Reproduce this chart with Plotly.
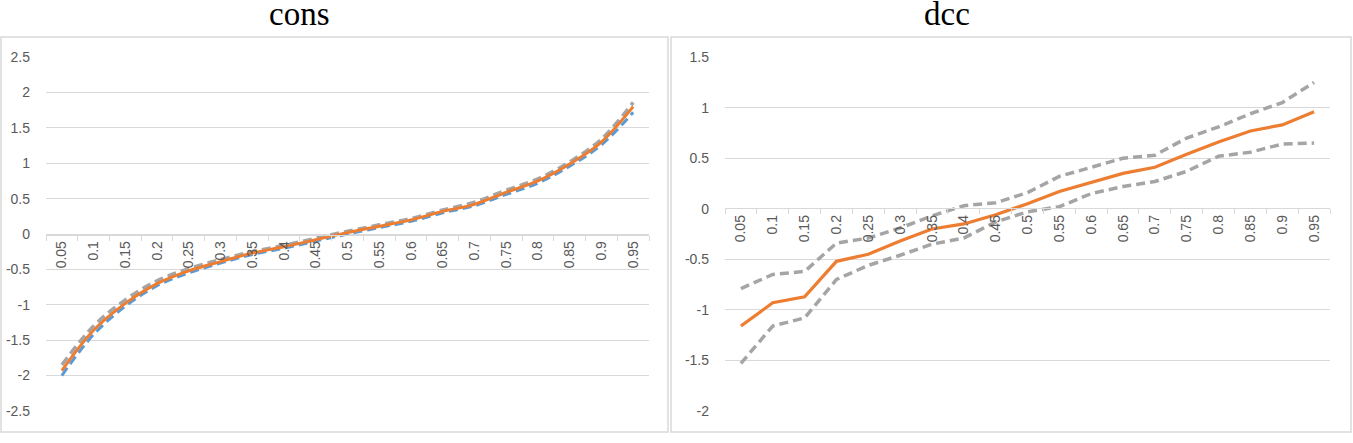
import plotly.graph_objects as go

W, H = 1353, 443

quantiles = ["0.05", "0.1", "0.15", "0.2", "0.25", "0.3", "0.35", "0.4", "0.45", "0.5",
             "0.55", "0.6", "0.65", "0.7", "0.75", "0.8", "0.85", "0.9", "0.95"]

# cons panel
cons_est = [-1.93, -1.36, -0.98, -0.70, -0.52, -0.39, -0.27, -0.18, -0.08, 0.02,
            0.11, 0.20, 0.32, 0.42, 0.59, 0.75, 0.99, 1.30, 1.80]
cons_upper = [-1.85, -1.30, -0.93, -0.66, -0.49, -0.36, -0.25, -0.16, -0.06, 0.04,
              0.13, 0.22, 0.34, 0.45, 0.62, 0.78, 1.02, 1.34, 1.86]
cons_lower = [-2.00, -1.42, -1.02, -0.73, -0.55, -0.41, -0.29, -0.20, -0.10, 0.00,
              0.09, 0.18, 0.30, 0.40, 0.56, 0.72, 0.96, 1.26, 1.72]

# dcc panel
dcc_est = [-1.16, -0.93, -0.87, -0.52, -0.45, -0.32, -0.20, -0.15, -0.06, 0.05,
           0.17, 0.26, 0.35, 0.41, 0.54, 0.66, 0.77, 0.83, 0.96]
dcc_upper = [-0.79, -0.65, -0.62, -0.34, -0.29, -0.19, -0.07, 0.03, 0.06, 0.16,
             0.32, 0.41, 0.50, 0.53, 0.70, 0.81, 0.94, 1.05, 1.25]
dcc_lower = [-1.53, -1.16, -1.08, -0.70, -0.56, -0.46, -0.35, -0.29, -0.13, -0.03,
             0.02, 0.15, 0.22, 0.27, 0.37, 0.52, 0.56, 0.64, 0.65]

cons_ticks = [2.5, 2, 1.5, 1, 0.5, 0, -0.5, -1, -1.5, -2, -2.5]
cons_ticktext = ["2.5", "2", "1.5", "1", "0.5", "0", "-0.5", "-1", "-1.5", "-2", "-2.5"]
dcc_ticks = [1.5, 1, 0.5, 0, -0.5, -1, -1.5, -2]
dcc_ticktext = ["1.5", "1", "0.5", "0", "-0.5", "-1", "-1.5", "-2"]

titles = ["cons", "dcc"]

BLUE = "#5B9BD5"
ORANGE = "#ED7D31"
GRAY = "#A5A5A5"
GRID = "#D9D9D9"
TXT = "#595959"
DASH = "9px,5px"
SANS = "Liberation Sans, Arial, sans-serif"
SERIF = "Liberation Serif, Times New Roman, serif"

fig = go.Figure()

# left panel
fig.add_trace(go.Scatter(x=quantiles, y=cons_lower, mode="lines", xaxis="x", yaxis="y",
                         line=dict(color=BLUE, width=3, dash=DASH, shape="spline")))
fig.add_trace(go.Scatter(x=quantiles, y=cons_upper, mode="lines", xaxis="x", yaxis="y",
                         line=dict(color=GRAY, width=3.5, dash=DASH, shape="spline")))
fig.add_trace(go.Scatter(x=quantiles, y=cons_est, mode="lines", xaxis="x", yaxis="y",
                         line=dict(color=ORANGE, width=3, shape="spline")))

# right panel
fig.add_trace(go.Scatter(x=quantiles, y=dcc_upper, mode="lines", xaxis="x2", yaxis="y2",
                         line=dict(color=GRAY, width=3.5, dash=DASH)))
fig.add_trace(go.Scatter(x=quantiles, y=dcc_lower, mode="lines", xaxis="x2", yaxis="y2",
                         line=dict(color=GRAY, width=3.5, dash=DASH)))
fig.add_trace(go.Scatter(x=quantiles, y=dcc_est, mode="lines", xaxis="x2", yaxis="y2",
                         line=dict(color=ORANGE, width=3.2)))

ydom = [1 - 418 / H, 1 - 51 / H]
x1dom = [46 / W, 649 / W]
x2dom = [725 / W, 1330 / W]


def xaxis_cfg(dom, pos):
    return dict(domain=dom, anchor="free", position=pos, type="category",
                range=[-0.5, len(quantiles) - 0.5], tickson="boundaries",
                ticks="outside", ticklen=5, tickcolor=GRID, showline=True,
                linecolor=GRID, linewidth=1, showgrid=False, zeroline=False,
                tickangle=-90, tickfont=dict(family=SANS, size=14, color=TXT),
                fixedrange=True)


def yaxis_cfg(pos, rng, vals, text):
    return dict(domain=ydom, anchor="free", position=pos, range=rng,
                tickmode="array", tickvals=vals, ticktext=text,
                showgrid=True, gridcolor=GRID, gridwidth=1, zeroline=False,
                showline=False, ticks="", ticklabelstandoff=16,
                tickfont=dict(family=SANS, size=14, color=TXT),
                fixedrange=True)


fig.update_layout(
    width=W, height=H,
    margin=dict(l=0, r=0, t=0, b=0),
    paper_bgcolor="white", plot_bgcolor="white",
    showlegend=False,
    xaxis=xaxis_cfg(x1dom, 1 - 235 / H),
    yaxis=yaxis_cfg(x1dom[0], [-2.5, 2.5], cons_ticks, cons_ticktext),
    xaxis2=xaxis_cfg(x2dom, 1 - 208 / H),
    yaxis2=yaxis_cfg(x2dom[0], [-2, 1.5], dcc_ticks, dcc_ticktext),
    shapes=[
        dict(type="rect", xref="paper", yref="paper", x0=1 / W, x1=668 / W,
             y0=1 - 440 / H, y1=1 - 30 / H, line=dict(color=GRID, width=1.5), layer="below"),
        dict(type="rect", xref="paper", yref="paper", x0=671 / W, x1=1351 / W,
             y0=1 - 440 / H, y1=1 - 30 / H, line=dict(color=GRID, width=1.5), layer="below"),
    ],
    annotations=[
        dict(text=titles[0], xref="paper", yref="paper", x=299 / W, y=1 + 13 / H,
             xanchor="center", yanchor="top", showarrow=False, borderpad=0,
             font=dict(family=SERIF, size=33, color="black")),
        dict(text=titles[1], xref="paper", yref="paper", x=947 / W, y=1 + 13 / H,
             xanchor="center", yanchor="top", showarrow=False, borderpad=0,
             font=dict(family=SERIF, size=33, color="black")),
    ],
)

fig.write_html("out.html")
